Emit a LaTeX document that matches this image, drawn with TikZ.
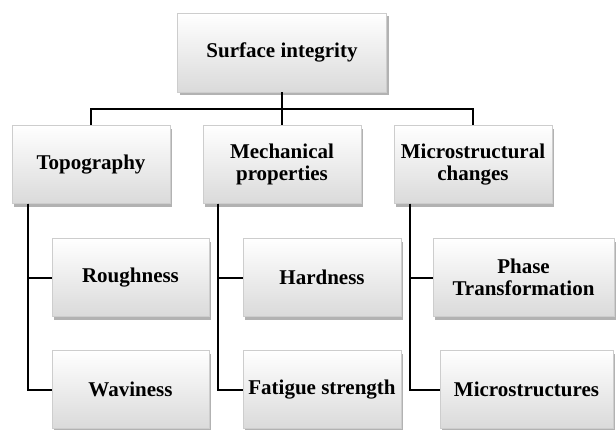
\documentclass[tikz,border=0pt]{standalone}
\usepackage{fontspec}
\setmainfont{Liberation Serif}
\usepackage{tikz}
\usetikzlibrary{positioning, shadows, calc}
\definecolor{boxtop}{RGB}{255,255,255}
\definecolor{boxbot}{RGB}{218,218,218}
\definecolor{boxline}{RGB}{205,205,205}

\begin{document}
\begin{tikzpicture}[
  x=1pt, y=-1pt,
  every node/.style={align=center},
  sibox/.style={rectangle, top color=boxtop, bottom color=boxbot, draw=boxline,
                line width=0.4pt, minimum width=#1, minimum height=78pt,
                inner sep=2pt, font=\fontsize{21}{21.5}\selectfont\bfseries,
                drop shadow={shadow xshift=2pt, shadow yshift=-3pt,
                             opacity=0.5, fill=black!60}},
  sibox/.default=158pt,
  link/.style={draw=black, line width=2pt},
]
\useasboundingbox (0,0) rectangle (616,429);

%% Column x-positions
\def\xA{91}    % Topography
\def\xB{282}   % Mechanical properties
\def\xC{473}   % Microstructural changes

%% Top level
\node[sibox=209pt, minimum height=79pt] (surf) at (\xB,52.5) {Surface integrity};

%% Second level
\node[sibox] (topo)  at (\xA,164.5) {Topography};
\node[sibox] (mech)  at (\xB,164.5) {Mechanical\\properties};
\node[sibox] (micro) at (\xC,164.5) {Microstructural\\changes};

%% Third level
\node[sibox=157pt] (rough) at (130.5,277.5) {Roughness};
\node[sibox=157pt] (wavi)  at (130.5,389.5) {Waviness};
\node[sibox] (hard)  at (322,277.5) {Hardness};
\node[sibox] (fatig) at (322,389.5) {Fatigue strength};
\node[sibox=181pt] (phase) at (523.5,277.5) {Phase\\Transformation};
\node[sibox=173pt] (mstr)  at (526.5,389.5) {Microstructures};

%% Bus below the top box
\coordinate (bus) at (\xB,109);
\draw[link] (surf.south) -- (bus);
\draw[link] (bus) -| (topo.north);
\draw[link] (bus) -- (mech.north);
\draw[link] (bus) -| (micro.north);

%% Branch lines
\coordinate (topoL)  at ([xshift=16pt]topo.south west);
\coordinate (mechL)  at ([xshift=15pt]mech.south west);
\coordinate (microL) at ([xshift=16pt]micro.south west);
\draw[link] (topoL) |- (rough.west);
\draw[link] (topoL) |- (wavi.west);
\draw[link] (mechL) |- (hard.west);
\draw[link] (mechL) |- (fatig.west);
\draw[link] (microL) |- (phase.west);
\draw[link] (microL) |- (mstr.west);

\end{tikzpicture}
\end{document}
